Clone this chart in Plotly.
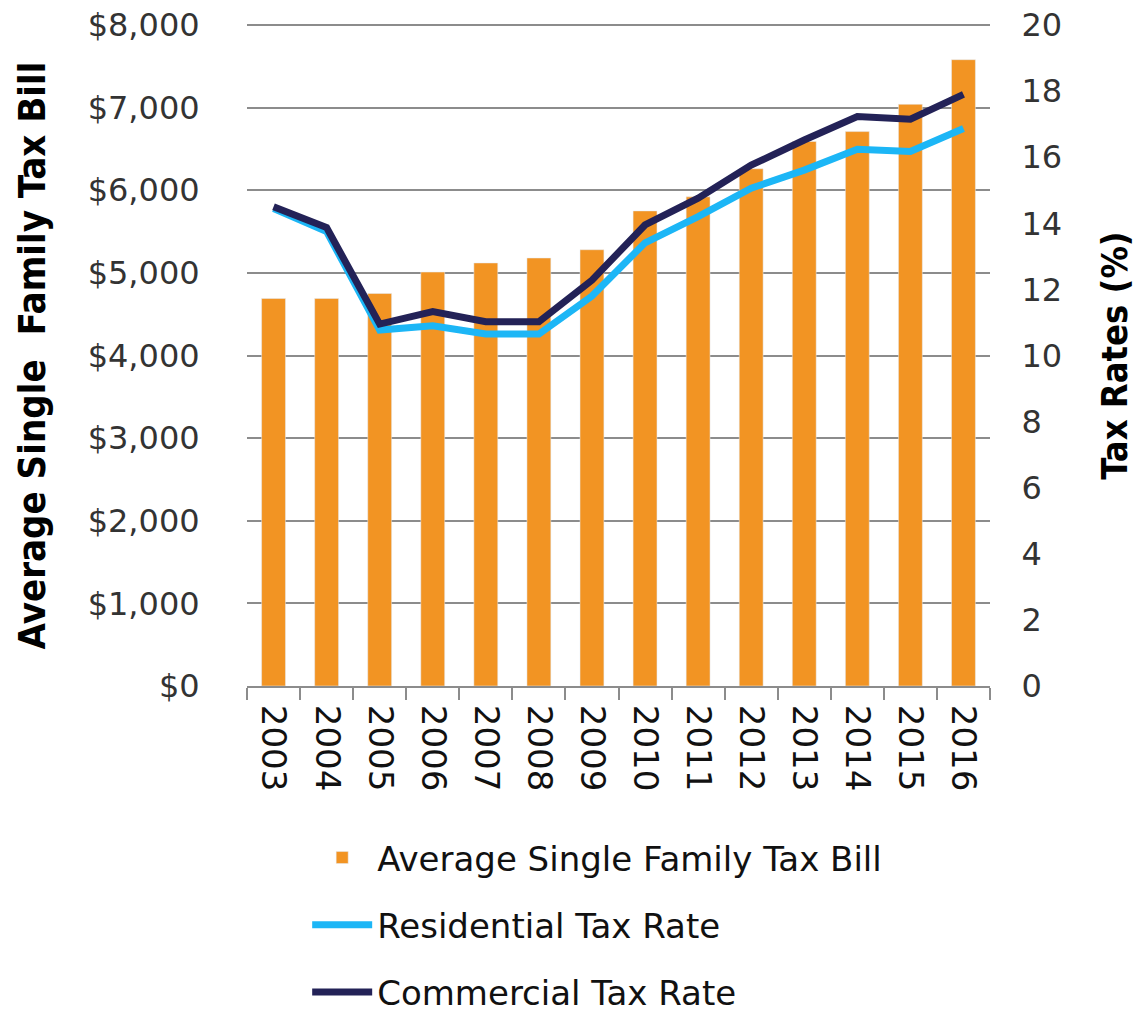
import plotly.graph_objects as go

years = ["2003", "2004", "2005", "2006", "2007", "2008", "2009",
         "2010", "2011", "2012", "2013", "2014", "2015", "2016"]
avg_tax_bill = [4690, 4690, 4750, 5010, 5120, 5180, 5280,
                5750, 5920, 6260, 6590, 6710, 7040, 7580]
residential_rate = [14.45, 13.75, 10.77, 10.90, 10.65, 10.65, 11.80,
                    13.41, 14.20, 15.06, 15.61, 16.24, 16.17, 16.87]
commercial_rate = [14.50, 13.87, 10.95, 11.33, 11.02, 11.02, 12.28,
                   13.95, 14.76, 15.76, 16.52, 17.23, 17.15, 17.90]

FONT = "DejaVu Sans"
TITLE_FONT = "DejaVu Sans Condensed"
GRID = "#8c8c8c"

fig = go.Figure()

fig.add_trace(go.Bar(
    x=years, y=avg_tax_bill,
    name="Average Single Family Tax Bill",
    marker=dict(color="#F29423"),
    legendgroup="a",
))
fig.add_trace(go.Scatter(
    x=years, y=residential_rate,
    name="Residential Tax Rate",
    mode="lines",
    line=dict(color="#1CB6F6", width=7),
    yaxis="y2",
    legendgroup="b",
))
fig.add_trace(go.Scatter(
    x=years, y=commercial_rate,
    name="Commercial Tax Rate",
    mode="lines",
    line=dict(color="#232257", width=7),
    yaxis="y2",
    legendgroup="c",
))

# top gridline ($8,000) -- plotly drops the grid at the range edge
fig.add_shape(type="line", xref="paper", yref="paper",
              x0=0, x1=1, y0=1, y1=1,
              line=dict(color=GRID, width=2), layer="below")

# page body has an 8px default margin, so margins are shifted to compensate
fig.update_layout(
    width=1143, height=1011,
    margin=dict(l=239, r=161, t=17, b=333),
    paper_bgcolor="white",
    plot_bgcolor="white",
    font=dict(family=FONT, size=32, color="#111111"),
    bargap=0.55,
    xaxis=dict(
        type="category",
        automargin=False,
        tickangle=90,
        tickfont=dict(size=34),
        ticklabelstandoff=10,
        ticklabeloverflow="allow",
        showline=True, linecolor=GRID, linewidth=2,
        ticks="outside", tickson="boundaries", ticklen=12,
        tickcolor=GRID, tickwidth=2,
        showgrid=False,
    ),
    yaxis=dict(
        range=[0, 8000], dtick=1000,
        automargin=False,
        ticklabeloverflow="allow",
        tickprefix="$", tickformat=",",
        tickfont=dict(size=32, color="#333333"),
        showgrid=True, gridcolor=GRID, gridwidth=2,
        zeroline=False,
        ticks="outside", ticklen=40, tickcolor="rgba(0,0,0,0)",
        title=dict(text="Average Single  Family Tax Bill",
                   font=dict(family=TITLE_FONT, size=38, color="black", weight="bold"),
                   standoff=30),
    ),
    yaxis2=dict(
        range=[0, 20], dtick=2,
        automargin=False,
        ticklabeloverflow="allow",
        overlaying="y", side="right",
        tickfont=dict(size=32, color="#333333"),
        showgrid=False, zeroline=False,
        ticks="outside", ticklen=24, tickcolor="rgba(0,0,0,0)",
        title=dict(text="Tax Rates (%)",
                   font=dict(family=TITLE_FONT, size=36, color="black", weight="bold"),
                   standoff=40),
    ),
    legend=dict(
        x=0.081, xanchor="left",
        yref="container", y=0.188, yanchor="top",
        orientation="v",
        font=dict(size=34, color="#111111"),
        tracegroupgap=20,
        itemwidth=60,
    ),
)

fig.write_html("out.html")
